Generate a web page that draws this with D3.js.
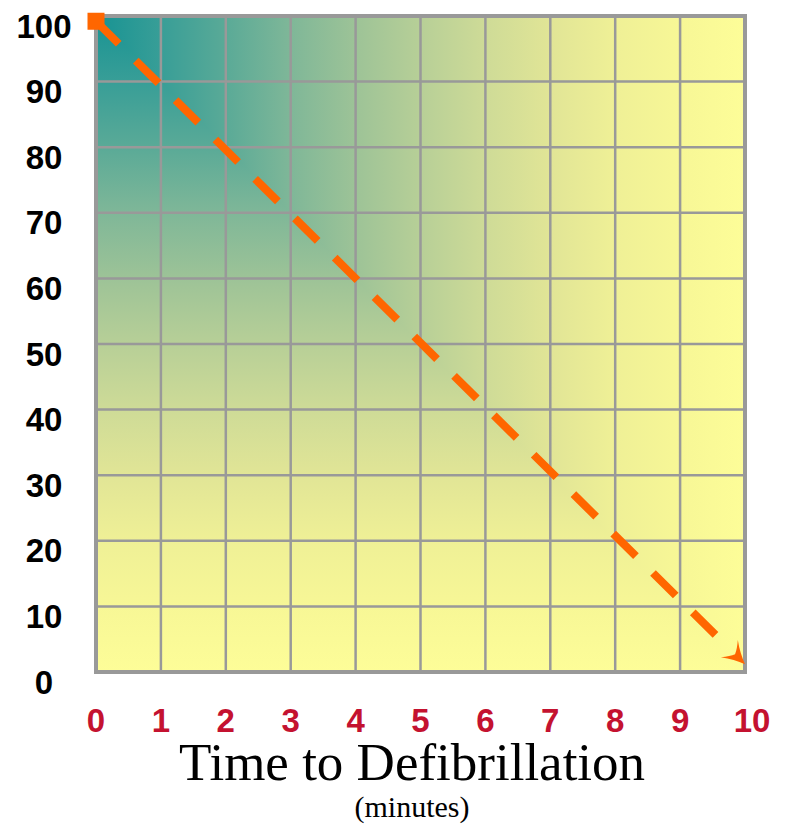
<!DOCTYPE html>
<html>
<head>
<meta charset="utf-8">
<script src="https://cdn.jsdelivr.net/npm/d3@7"></script>
<style>
  html, body { margin: 0; padding: 0; background: #fff; }
  svg { display: block; }
</style>
</head>
<body>
<div id="chart"></div>
<script>
// survival chance (%) vs minutes until defibrillation
const minutes = [0, 1, 2, 3, 4, 5, 6, 7, 8, 9, 10];
const yTicks = [0, 10, 20, 30, 40, 50, 60, 70, 80, 90, 100];
// the dashed arrow as drawn: from its square start to its arrow tip
const arrowMinutes = [0, 10];
const arrowSurvival = [99.2, 1.2];
const xTitle = "Time to Defibrillation";
const xSubtitle = "(minutes)";

const width = 786, height = 824;
const plotLeft = 96, plotRight = 745, plotTop = 16, plotBottom = 672;

const x = d3.scaleLinear().domain([0, 10]).range([plotLeft, plotRight]);
const y = d3.scaleLinear().domain([0, 100]).range([plotBottom, plotTop]);

const svg = d3.select("#chart")
    .append("svg")
    .attr("width", width)
    .attr("height", height);

const defs = svg.append("defs");

// teal corner fading out to yellow (rectangular gradient)
const stops = [
    [0, "#179393"], [0.1, "#389e97"], [0.2, "#5aaa97"], [0.3, "#7fb798"],
    [0.4, "#9dc397"], [0.5, "#b7cf97"], [0.6, "#cedb97"], [0.7, "#e1e596"],
    [0.8, "#eff096"], [0.9, "#f7f796"], [1, "#fdfd98"]
];

function addGradient(id, x2, y2) {
    const g = defs.append("linearGradient")
        .attr("id", id)
        .attr("x1", 0).attr("y1", 0)
        .attr("x2", x2).attr("y2", y2);
    g.selectAll("stop")
        .data(stops)
        .enter()
        .append("stop")
        .attr("offset", d => d[0])
        .attr("stop-color", d => d[1]);
}
addGradient("gradV", 0, 1);
addGradient("gradH", 1, 0);

svg.append("rect")
    .attr("x", plotLeft).attr("y", plotTop)
    .attr("width", plotRight - plotLeft).attr("height", plotBottom - plotTop)
    .attr("fill", "url(#gradV)");

// upper-right triangle fades left to right
svg.append("path")
    .attr("d", `M${x(0)},${y(100)}L${x(10)},${y(100)}L${x(10)},${y(0)}Z`)
    .attr("fill", "url(#gradH)");

// grid
const grid = svg.append("g")
    .attr("stroke", "#999")
    .attr("stroke-width", 2.5);

grid.selectAll(".vline")
    .data(minutes)
    .enter()
    .append("line")
    .attr("x1", d => x(d)).attr("x2", d => x(d))
    .attr("y1", plotTop).attr("y2", plotBottom);

grid.selectAll(".hline")
    .data(yTicks)
    .enter()
    .append("line")
    .attr("x1", plotLeft).attr("x2", plotRight)
    .attr("y1", d => y(d)).attr("y2", d => y(d));

svg.append("rect")
    .attr("x", plotLeft).attr("y", plotTop)
    .attr("width", plotRight - plotLeft).attr("height", plotBottom - plotTop)
    .attr("fill", "none")
    .attr("stroke", "#999")
    .attr("stroke-width", 4);

// arrow head, tip sits on the last point
defs.append("marker")
    .attr("id", "arrow")
    .attr("markerUnits", "userSpaceOnUse")
    .attr("viewBox", "-26 -14 30 28")
    .attr("markerWidth", 30)
    .attr("markerHeight", 28)
    .attr("refX", 0)
    .attr("refY", 0)
    .attr("orient", "auto")
    .append("path")
    .attr("d", "M0,0Q-11,-4 -22,-12Q-16,-5 -14,0Q-16,5 -22,12Q-11,4 0,0Z")
    .attr("fill", "#ff6600");

const line = d3.line()
    .x((d, i) => x(arrowMinutes[i]))
    .y(d => y(d));

// 16 dashes, then nothing under the arrow head
const dashes = d3.range(16).map(() => "32 24").join(" ") + " 0 80";

svg.append("path")
    .datum(arrowSurvival)
    .attr("d", line)
    .attr("fill", "none")
    .attr("stroke", "#ff6600")
    .attr("stroke-width", 8)
    .attr("stroke-dasharray", dashes)
    .attr("marker-end", "url(#arrow)");

svg.append("rect")
    .attr("x", x(arrowMinutes[0]) - 8.5)
    .attr("y", y(arrowSurvival[0]) - 8.5)
    .attr("width", 17)
    .attr("height", 17)
    .attr("fill", "#ff6600");

// y labels
svg.append("g")
    .selectAll("text")
    .data(yTicks)
    .enter()
    .append("text")
    .attr("x", 44)
    .attr("y", d => y(d) + 10)
    .attr("dy", "0.35em")
    .attr("text-anchor", "middle")
    .attr("font-family", "Liberation Sans, Arial, sans-serif")
    .attr("font-weight", "bold")
    .attr("font-size", 33)
    .attr("fill", "#000")
    .text(d => d);

// x labels
svg.append("g")
    .selectAll("text")
    .data(minutes)
    .enter()
    .append("text")
    .attr("x", d => x(d) + (d === 10 ? 7 : 0))
    .attr("y", 720)
    .attr("dy", "0.35em")
    .attr("text-anchor", "middle")
    .attr("font-family", "Liberation Sans, Arial, sans-serif")
    .attr("font-weight", "bold")
    .attr("font-size", 33)
    .attr("fill", "#c41230")
    .text(d => d);

svg.append("text")
    .attr("x", 412)
    .attr("y", 780)
    .attr("text-anchor", "middle")
    .attr("font-family", "Liberation Serif, Times New Roman, serif")
    .attr("font-size", 53)
    .attr("fill", "#000")
    .text(xTitle);

svg.append("text")
    .attr("x", 412)
    .attr("y", 817)
    .attr("text-anchor", "middle")
    .attr("font-family", "Liberation Serif, Times New Roman, serif")
    .attr("font-size", 30)
    .attr("fill", "#000")
    .text(xSubtitle);
</script>
</body>
</html>
